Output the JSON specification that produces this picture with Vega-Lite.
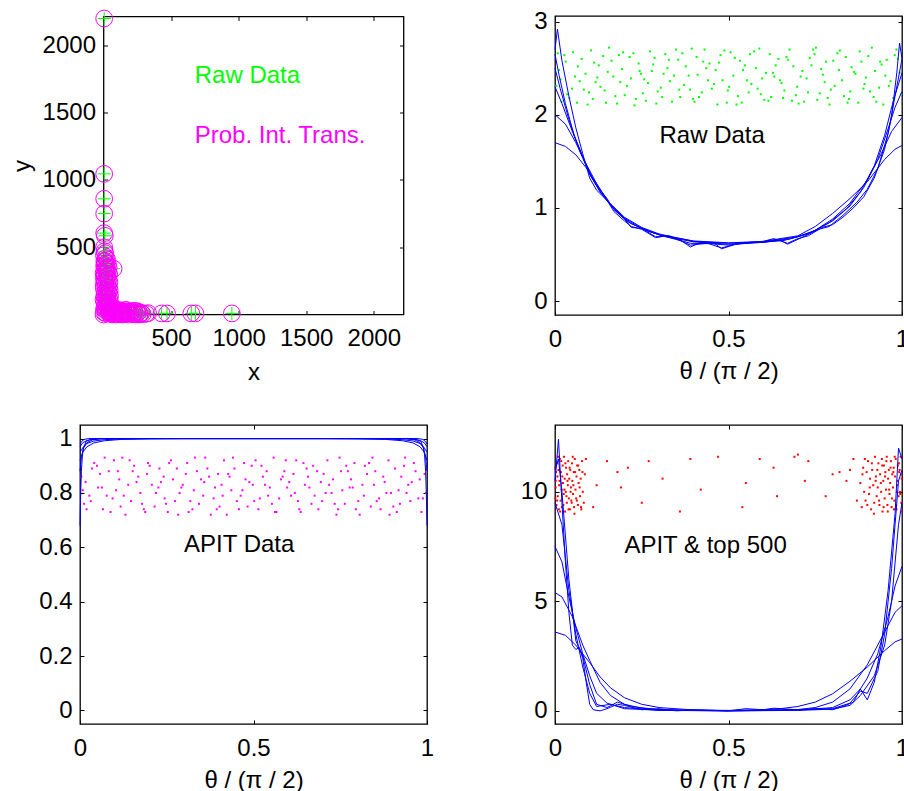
{
"$schema": "https://vega.github.io/schema/vega-lite/v6.json",
"background": "white",
"autosize": {"type": "pad"},
"padding": {"left": 9, "top": 7, "right": 0, "bottom": 0},
"columns": 2,
"spacing": {"row": 110, "column": 128},
"bounds": "flush",
"center": true,
"config": {
  "font": "Liberation Sans",
  "view": {"stroke": "#000", "strokeWidth": 1.3},
  "axis": {"labelFont": "Liberation Sans", "labelFontSize": 24, "labelColor": "#000", "titleFont": "Liberation Sans", "titleFontSize": 24, "titleFontWeight": "normal", "titleColor": "#000", "domain": false, "grid": false, "tickColor": "#000", "tickSize": -4, "tickWidth": 1, "labelPadding": 12, "labelFlush": false, "labelOverlap": false, "format": "~r"},
  "axisX": {"labelPadding": 16}
},
"datasets": {
"p1": [{"x":5,"y":2200},{"x":5,"y":1045},{"x":5,"y":860},{"x":5,"y":750},{"x":5,"y":605},{"x":10,"y":585},{"x":5,"y":500},{"x":8,"y":470},{"x":12,"y":455},{"x":3,"y":440},{"x":75,"y":340},{"x":430,"y":8},{"x":470,"y":8},{"x":650,"y":8},{"x":680,"y":8},{"x":950,"y":8},
{"x":10,"y":400},{"x":20,"y":380},{"x":5,"y":360},{"x":15,"y":340},{"x":30,"y":320},{"x":8,"y":300},{"x":25,"y":280},{"x":35,"y":260},{"x":12,"y":240},{"x":2,"y":220},{"x":28,"y":200},{"x":18,"y":180},{"x":38,"y":160},{"x":6,"y":140},{"x":22,"y":120},{"x":32,"y":100},{"x":14,"y":80},{"x":40,"y":60},{"x":4,"y":40},{"x":26,"y":20},{"x":0,"y":0},{"x":16,"y":10},{"x":36,"y":30},{"x":10,"y":50},{"x":20,"y":70},{"x":30,"y":90},{"x":0,"y":110},{"x":12,"y":130},{"x":24,"y":150},{"x":34,"y":170},{"x":3,"y":190},{"x":15,"y":210},{"x":27,"y":230},{"x":7,"y":250},{"x":19,"y":270},{"x":31,"y":290},{"x":1,"y":310},{"x":13,"y":330},{"x":23,"y":350},{"x":9,"y":370},{"x":17,"y":420},{"x":40,"y":200},{"x":45,"y":110},{"x":50,"y":40},
{"x":38,"y":345},{"x":42,"y":300},{"x":44,"y":240},{"x":46,"y":180},{"x":48,"y":140},{"x":50,"y":80},{"x":52,"y":20},{"x":6,"y":395},{"x":26,"y":410},{"x":33,"y":375},{"x":2,"y":275},{"x":21,"y":305},{"x":11,"y":165},{"x":29,"y":135},{"x":37,"y":65},{"x":7,"y":95},{"x":18,"y":45},{"x":41,"y":15},{"x":4,"y":15},{"x":28,"y":55},
{"x":50,"y":5},{"x":60,"y":20},{"x":70,"y":10},{"x":80,"y":25},{"x":90,"y":0},{"x":100,"y":15},{"x":110,"y":5},{"x":120,"y":25},{"x":130,"y":10},{"x":140,"y":0},{"x":150,"y":20},{"x":160,"y":5},{"x":170,"y":15},{"x":180,"y":25},{"x":190,"y":0},{"x":200,"y":10},{"x":210,"y":20},{"x":220,"y":5},{"x":230,"y":15},{"x":240,"y":0},{"x":250,"y":10},{"x":260,"y":20},{"x":270,"y":5},{"x":280,"y":12},{"x":290,"y":3},{"x":65,"y":0},{"x":95,"y":30},{"x":125,"y":3},{"x":175,"y":8},{"x":225,"y":28},{"x":55,"y":12},{"x":85,"y":8},{"x":115,"y":18},{"x":75,"y":40},{"x":105,"y":35},{"x":135,"y":30},{"x":165,"y":35},{"x":195,"y":22},{"x":245,"y":25},{"x":145,"y":12},{"x":185,"y":12},{"x":265,"y":0},{"x":315,"y":5},{"x":330,"y":10}],
"p2dots": [{"x":0.004,"y":2.31},{"x":0.027,"y":2.64},{"x":0.041,"y":2.18},{"x":0.066,"y":2.52},{"x":0.083,"y":2.27},{"x":0.104,"y":2.69},{"x":0.122,"y":2.4},{"x":0.147,"y":2.13},{"x":0.163,"y":2.58},{"x":0.188,"y":2.35},{"x":0.201,"y":2.21},{"x":0.226,"y":2.66},{"x":0.248,"y":2.44},{"x":0.262,"y":2.15},{"x":0.287,"y":2.61},{"x":0.305,"y":2.29},{"x":0.324,"y":2.5},{"x":0.349,"y":2.7},{"x":0.361,"y":2.19},{"x":0.385,"y":2.42},{"x":0.408,"y":2.62},{"x":0.423,"y":2.24},{"x":0.445,"y":2.55},{"x":0.468,"y":2.11},{"x":0.483,"y":2.37},{"x":0.506,"y":2.67},{"x":0.527,"y":2.2},{"x":0.542,"y":2.48},{"x":0.566,"y":2.33},{"x":0.589,"y":2.71},{"x":0.603,"y":2.16},{"x":0.628,"y":2.45},{"x":0.644,"y":2.6},{"x":0.661,"y":2.26},{"x":0.687,"y":2.52},{"x":0.702,"y":2.12},{"x":0.725,"y":2.39},{"x":0.748,"y":2.65},{"x":0.763,"y":2.23},{"x":0.781,"y":2.57},{"x":0.806,"y":2.31},{"x":0.821,"y":2.69},{"x":0.847,"y":2.17},{"x":0.862,"y":2.46},{"x":0.889,"y":2.28},{"x":0.903,"y":2.63},{"x":0.926,"y":2.14},{"x":0.941,"y":2.54},{"x":0.967,"y":2.36},{"x":0.984,"y":2.7},
{"x":0.012,"y":2.48},{"x":0.035,"y":2.22},{"x":0.052,"y":2.67},{"x":0.071,"y":2.36},{"x":0.094,"y":2.11},{"x":0.113,"y":2.56},{"x":0.131,"y":2.3},{"x":0.156,"y":2.72},{"x":0.174,"y":2.2},{"x":0.193,"y":2.49},{"x":0.215,"y":2.62},{"x":0.233,"y":2.17},{"x":0.257,"y":2.38},{"x":0.274,"y":2.68},{"x":0.296,"y":2.25},{"x":0.313,"y":2.44},{"x":0.337,"y":2.14},{"x":0.355,"y":2.59},{"x":0.372,"y":2.32},{"x":0.394,"y":2.71},{"x":0.415,"y":2.19},{"x":0.436,"y":2.5},{"x":0.452,"y":2.28},{"x":0.477,"y":2.64},{"x":0.495,"y":2.13},{"x":0.514,"y":2.42},{"x":0.533,"y":2.58},{"x":0.558,"y":2.24},{"x":0.574,"y":2.68},{"x":0.597,"y":2.39},{"x":0.615,"y":2.15},{"x":0.636,"y":2.53},{"x":0.653,"y":2.34},{"x":0.676,"y":2.7},{"x":0.694,"y":2.21},{"x":0.713,"y":2.47},{"x":0.734,"y":2.61},{"x":0.756,"y":2.16},{"x":0.772,"y":2.43},{"x":0.795,"y":2.27},{"x":0.814,"y":2.66},{"x":0.833,"y":2.2},{"x":0.855,"y":2.51},{"x":0.874,"y":2.13},{"x":0.896,"y":2.4},{"x":0.913,"y":2.72},{"x":0.934,"y":2.29},{"x":0.956,"y":2.59},{"x":0.975,"y":2.18},{"x":0.993,"y":2.45},
{"x":0.008,"y":2.66},{"x":0.019,"y":2.14},{"x":0.058,"y":2.41},{"x":0.077,"y":2.6},{"x":0.098,"y":2.24},{"x":0.117,"y":2.35},{"x":0.139,"y":2.63},{"x":0.152,"y":2.46},{"x":0.179,"y":2.12},{"x":0.196,"y":2.67},{"x":0.219,"y":2.39},{"x":0.241,"y":2.55},{"x":0.253,"y":2.23},{"x":0.279,"y":2.47},{"x":0.292,"y":2.12},{"x":0.318,"y":2.65},{"x":0.331,"y":2.36},{"x":0.358,"y":2.27},{"x":0.377,"y":2.52},{"x":0.398,"y":2.17},{"x":0.411,"y":2.43},{"x":0.431,"y":2.7},{"x":0.458,"y":2.33},{"x":0.473,"y":2.56},{"x":0.498,"y":2.26},{"x":0.518,"y":2.61},{"x":0.538,"y":2.13},{"x":0.553,"y":2.37},{"x":0.579,"y":2.5},{"x":0.593,"y":2.22},{"x":0.619,"y":2.65},{"x":0.632,"y":2.41},{"x":0.657,"y":2.18},{"x":0.672,"y":2.59},{"x":0.698,"y":2.3},{"x":0.718,"y":2.14},{"x":0.739,"y":2.53},{"x":0.752,"y":2.72},{"x":0.777,"y":2.35},{"x":0.791,"y":2.11},{"x":0.818,"y":2.48},{"x":0.838,"y":2.62},{"x":0.851,"y":2.25},{"x":0.878,"y":2.68},{"x":0.892,"y":2.33},{"x":0.918,"y":2.19},{"x":0.937,"y":2.57},{"x":0.952,"y":2.42},{"x":0.979,"y":2.64},{"x":0.997,"y":2.22},
{"x":0.016,"y":2.38},{"x":0.031,"y":2.57},{"x":0.049,"y":2.28},{"x":0.063,"y":2.13},{"x":0.088,"y":2.44},{"x":0.109,"y":2.17},{"x":0.126,"y":2.53},{"x":0.143,"y":2.26},{"x":0.168,"y":2.41},{"x":0.184,"y":2.64},{"x":0.207,"y":2.31},{"x":0.229,"y":2.1},{"x":0.244,"y":2.47},{"x":0.268,"y":2.34},{"x":0.283,"y":2.54},{"x":0.309,"y":2.19},{"x":0.328,"y":2.59},{"x":0.343,"y":2.42},{"x":0.367,"y":2.66},{"x":0.389,"y":2.27},{"x":0.402,"y":2.14},{"x":0.427,"y":2.57},{"x":0.441,"y":2.37},{"x":0.463,"y":2.48},{"x":0.488,"y":2.69},{"x":0.502,"y":2.3},{"x":0.523,"y":2.11},{"x":0.547,"y":2.53},{"x":0.562,"y":2.65},{"x":0.584,"y":2.28},{"x":0.608,"y":2.45},{"x":0.623,"y":2.19},{"x":0.648,"y":2.37},{"x":0.667,"y":2.62},{"x":0.683,"y":2.15},{"x":0.708,"y":2.41},{"x":0.729,"y":2.24},{"x":0.744,"y":2.7},{"x":0.767,"y":2.49},{"x":0.786,"y":2.18},{"x":0.802,"y":2.58},{"x":0.827,"y":2.37},{"x":0.843,"y":2.13},{"x":0.866,"y":2.44},{"x":0.883,"y":2.57},{"x":0.908,"y":2.25},{"x":0.922,"y":2.47},{"x":0.946,"y":2.11},{"x":0.962,"y":2.31},{"x":0.988,"y":2.6}],
"p2curves": [
{"c":1,"x":0,"y":1.7},{"c":1,"x":0.03,"y":1.66},{"c":1,"x":0.06,"y":1.57},{"c":1,"x":0.09,"y":1.43},{"c":1,"x":0.12,"y":1.26},{"c":1,"x":0.16,"y":1.03},{"c":1,"x":0.2,"y":0.89},{"c":1,"x":0.25,"y":0.78},{"c":1,"x":0.3,"y":0.71},{"c":1,"x":0.4,"y":0.645},{"c":1,"x":0.5,"y":0.625},{"c":1,"x":0.6,"y":0.64},{"c":1,"x":0.7,"y":0.7},{"c":1,"x":0.75,"y":0.8},{"c":1,"x":0.8,"y":0.94},{"c":1,"x":0.85,"y":1.1},{"c":1,"x":0.9,"y":1.28},{"c":1,"x":0.95,"y":1.52},{"c":1,"x":0.98,"y":1.63},{"c":1,"x":1,"y":1.67},
{"c":2,"x":0,"y":2.0},{"c":2,"x":0.03,"y":1.9},{"c":2,"x":0.06,"y":1.7},{"c":2,"x":0.09,"y":1.47},{"c":2,"x":0.12,"y":1.26},{"c":2,"x":0.15,"y":1.08},{"c":2,"x":0.2,"y":0.9},{"c":2,"x":0.25,"y":0.79},{"c":2,"x":0.3,"y":0.72},{"c":2,"x":0.4,"y":0.64},{"c":2,"x":0.5,"y":0.62},{"c":2,"x":0.6,"y":0.635},{"c":2,"x":0.7,"y":0.69},{"c":2,"x":0.75,"y":0.76},{"c":2,"x":0.8,"y":0.88},{"c":2,"x":0.85,"y":1.05},{"c":2,"x":0.9,"y":1.3},{"c":2,"x":0.94,"y":1.58},{"c":2,"x":0.97,"y":1.82},{"c":2,"x":1,"y":1.97},
{"c":3,"x":0,"y":2.3},{"c":3,"x":0.02,"y":2.12},{"c":3,"x":0.05,"y":1.82},{"c":3,"x":0.08,"y":1.55},{"c":3,"x":0.11,"y":1.3},{"c":3,"x":0.14,"y":1.12},{"c":3,"x":0.18,"y":0.95},{"c":3,"x":0.22,"y":0.83},{"c":3,"x":0.27,"y":0.75},{"c":3,"x":0.32,"y":0.69},{"c":3,"x":0.4,"y":0.635},{"c":3,"x":0.5,"y":0.61},{"c":3,"x":0.6,"y":0.63},{"c":3,"x":0.68,"y":0.67},{"c":3,"x":0.74,"y":0.74},{"c":3,"x":0.8,"y":0.86},{"c":3,"x":0.85,"y":1.02},{"c":3,"x":0.89,"y":1.22},{"c":3,"x":0.93,"y":1.52},{"c":3,"x":0.96,"y":1.85},{"c":3,"x":0.98,"y":2.08},{"c":3,"x":1,"y":2.25},
{"c":4,"x":0,"y":2.5},{"c":4,"x":0.015,"y":2.28},{"c":4,"x":0.04,"y":1.95},{"c":4,"x":0.07,"y":1.62},{"c":4,"x":0.1,"y":1.36},{"c":4,"x":0.13,"y":1.17},{"c":4,"x":0.17,"y":0.99},{"c":4,"x":0.21,"y":0.85},{"c":4,"x":0.26,"y":0.76},{"c":4,"x":0.31,"y":0.7},{"c":4,"x":0.39,"y":0.62},{"c":4,"x":0.45,"y":0.615},{"c":4,"x":0.5,"y":0.6},{"c":4,"x":0.58,"y":0.63},{"c":4,"x":0.66,"y":0.65},{"c":4,"x":0.73,"y":0.72},{"c":4,"x":0.79,"y":0.84},{"c":4,"x":0.84,"y":0.99},{"c":4,"x":0.88,"y":1.17},{"c":4,"x":0.92,"y":1.45},{"c":4,"x":0.95,"y":1.78},{"c":4,"x":0.975,"y":2.15},{"c":4,"x":1,"y":2.45},
{"c":5,"x":0,"y":2.65},{"c":5,"x":0.012,"y":2.42},{"c":5,"x":0.03,"y":2.12},{"c":5,"x":0.055,"y":1.78},{"c":5,"x":0.08,"y":1.55},{"c":5,"x":0.1,"y":1.36},{"c":5,"x":0.12,"y":1.24},{"c":5,"x":0.15,"y":1.1},{"c":5,"x":0.17,"y":0.98},{"c":5,"x":0.2,"y":0.88},{"c":5,"x":0.22,"y":0.79},{"c":5,"x":0.25,"y":0.78},{"c":5,"x":0.29,"y":0.69},{"c":5,"x":0.33,"y":0.7},{"c":5,"x":0.39,"y":0.6},{"c":5,"x":0.44,"y":0.62},{"c":5,"x":0.48,"y":0.57},{"c":5,"x":0.53,"y":0.62},{"c":5,"x":0.6,"y":0.63},{"c":5,"x":0.65,"y":0.65},{"c":5,"x":0.67,"y":0.61},{"c":5,"x":0.71,"y":0.68},{"c":5,"x":0.76,"y":0.77},{"c":5,"x":0.79,"y":0.8},{"c":5,"x":0.83,"y":0.92},{"c":5,"x":0.87,"y":1.06},{"c":5,"x":0.9,"y":1.2},{"c":5,"x":0.93,"y":1.42},{"c":5,"x":0.96,"y":1.8},{"c":5,"x":0.98,"y":2.2},{"c":5,"x":1,"y":2.6},
{"c":6,"x":0,"y":2.7},{"c":6,"x":0.007,"y":2.92},{"c":6,"x":0.02,"y":2.58},{"c":6,"x":0.04,"y":2.2},{"c":6,"x":0.06,"y":1.86},{"c":6,"x":0.08,"y":1.58},{"c":6,"x":0.1,"y":1.32},{"c":6,"x":0.12,"y":1.19},{"c":6,"x":0.15,"y":1.08},{"c":6,"x":0.17,"y":0.96},{"c":6,"x":0.2,"y":0.86},{"c":6,"x":0.22,"y":0.8},{"c":6,"x":0.25,"y":0.77},{"c":6,"x":0.29,"y":0.68},{"c":6,"x":0.32,"y":0.7},{"c":6,"x":0.36,"y":0.66},{"c":6,"x":0.39,"y":0.58},{"c":6,"x":0.42,"y":0.63},{"c":6,"x":0.46,"y":0.62},{"c":6,"x":0.48,"y":0.56},{"c":6,"x":0.52,"y":0.61},{"c":6,"x":0.56,"y":0.63},{"c":6,"x":0.6,"y":0.64},{"c":6,"x":0.63,"y":0.67},{"c":6,"x":0.67,"y":0.62},{"c":6,"x":0.7,"y":0.67},{"c":6,"x":0.73,"y":0.7},{"c":6,"x":0.77,"y":0.79},{"c":6,"x":0.8,"y":0.82},{"c":6,"x":0.83,"y":0.9},{"c":6,"x":0.86,"y":1.0},{"c":6,"x":0.89,"y":1.12},{"c":6,"x":0.92,"y":1.32},{"c":6,"x":0.95,"y":1.63},{"c":6,"x":0.97,"y":1.98},{"c":6,"x":0.985,"y":2.45},{"c":6,"x":0.993,"y":2.77},{"c":6,"x":1,"y":2.6}],
"p3dots": [{"x":0.004,"y":0.86},{"x":0.027,"y":0.79},{"x":0.041,"y":0.91},{"x":0.066,"y":0.74},{"x":0.083,"y":0.88},{"x":0.104,"y":0.81},{"x":0.122,"y":0.93},{"x":0.147,"y":0.77},{"x":0.163,"y":0.84},{"x":0.188,"y":0.73},{"x":0.201,"y":0.9},{"x":0.226,"y":0.82},{"x":0.248,"y":0.76},{"x":0.262,"y":0.92},{"x":0.287,"y":0.8},{"x":0.305,"y":0.87},{"x":0.324,"y":0.74},{"x":0.349,"y":0.85},{"x":0.361,"y":0.93},{"x":0.385,"y":0.78},{"x":0.408,"y":0.83},{"x":0.423,"y":0.72},{"x":0.445,"y":0.89},{"x":0.468,"y":0.81},{"x":0.483,"y":0.75},{"x":0.506,"y":0.92},{"x":0.527,"y":0.86},{"x":0.542,"y":0.79},{"x":0.566,"y":0.73},{"x":0.589,"y":0.88},{"x":0.603,"y":0.84},{"x":0.628,"y":0.77},{"x":0.644,"y":0.91},{"x":0.661,"y":0.82},{"x":0.687,"y":0.74},{"x":0.702,"y":0.87},{"x":0.725,"y":0.8},{"x":0.748,"y":0.93},{"x":0.763,"y":0.76},{"x":0.781,"y":0.85},{"x":0.806,"y":0.72},{"x":0.821,"y":0.9},{"x":0.847,"y":0.83},{"x":0.862,"y":0.78},{"x":0.889,"y":0.92},{"x":0.903,"y":0.75},{"x":0.926,"y":0.86},{"x":0.941,"y":0.8},{"x":0.967,"y":0.88},{"x":0.984,"y":0.73},
{"x":0.012,"y":0.76},{"x":0.035,"y":0.89},{"x":0.052,"y":0.82},{"x":0.071,"y":0.93},{"x":0.094,"y":0.78},{"x":0.113,"y":0.85},{"x":0.131,"y":0.72},{"x":0.156,"y":0.9},{"x":0.174,"y":0.8},{"x":0.193,"y":0.87},{"x":0.215,"y":0.75},{"x":0.233,"y":0.84},{"x":0.257,"y":0.91},{"x":0.274,"y":0.77},{"x":0.296,"y":0.83},{"x":0.313,"y":0.73},{"x":0.337,"y":0.88},{"x":0.355,"y":0.79},{"x":0.372,"y":0.86},{"x":0.394,"y":0.74},{"x":0.415,"y":0.92},{"x":0.436,"y":0.81},{"x":0.452,"y":0.77},{"x":0.477,"y":0.85},{"x":0.495,"y":0.9},{"x":0.514,"y":0.74},{"x":0.533,"y":0.83},{"x":0.558,"y":0.93},{"x":0.574,"y":0.78},{"x":0.597,"y":0.82},{"x":0.615,"y":0.87},{"x":0.636,"y":0.73},{"x":0.653,"y":0.89},{"x":0.676,"y":0.79},{"x":0.694,"y":0.84},{"x":0.713,"y":0.92},{"x":0.734,"y":0.76},{"x":0.756,"y":0.81},{"x":0.772,"y":0.88},{"x":0.795,"y":0.74},{"x":0.814,"y":0.83},{"x":0.833,"y":0.91},{"x":0.855,"y":0.77},{"x":0.874,"y":0.86},{"x":0.896,"y":0.8},{"x":0.913,"y":0.73},{"x":0.934,"y":0.9},{"x":0.956,"y":0.84},{"x":0.975,"y":0.78},{"x":0.993,"y":0.87},
{"x":0.008,"y":0.81},{"x":0.019,"y":0.74},{"x":0.058,"y":0.87},{"x":0.077,"y":0.79},{"x":0.098,"y":0.92},{"x":0.117,"y":0.75},{"x":0.139,"y":0.83},{"x":0.152,"y":0.88},{"x":0.179,"y":0.76},{"x":0.196,"y":0.91},{"x":0.219,"y":0.8},{"x":0.241,"y":0.86},{"x":0.253,"y":0.73},{"x":0.279,"y":0.89},{"x":0.292,"y":0.82},{"x":0.318,"y":0.77},{"x":0.331,"y":0.93},{"x":0.358,"y":0.84},{"x":0.377,"y":0.72},{"x":0.398,"y":0.87},{"x":0.411,"y":0.79},{"x":0.431,"y":0.86},{"x":0.458,"y":0.74},{"x":0.473,"y":0.91},{"x":0.498,"y":0.83},{"x":0.518,"y":0.78},{"x":0.538,"y":0.88},{"x":0.553,"y":0.76},{"x":0.579,"y":0.85},{"x":0.593,"y":0.92},{"x":0.619,"y":0.8},{"x":0.632,"y":0.74},{"x":0.657,"y":0.86},{"x":0.672,"y":0.9},{"x":0.698,"y":0.77},{"x":0.718,"y":0.83},{"x":0.739,"y":0.72},{"x":0.752,"y":0.88},{"x":0.777,"y":0.82},{"x":0.791,"y":0.91},{"x":0.818,"y":0.79},{"x":0.838,"y":0.75},{"x":0.851,"y":0.88},{"x":0.878,"y":0.84},{"x":0.892,"y":0.72},{"x":0.918,"y":0.81},{"x":0.937,"y":0.93},{"x":0.952,"y":0.77},{"x":0.979,"y":0.85},{"x":0.997,"y":0.8},
{"x":0.016,"y":0.84},{"x":0.031,"y":0.77},{"x":0.049,"y":0.9},{"x":0.063,"y":0.82},{"x":0.088,"y":0.73},{"x":0.109,"y":0.88},{"x":0.126,"y":0.79},{"x":0.143,"y":0.92},{"x":0.168,"y":0.86},{"x":0.184,"y":0.74},{"x":0.207,"y":0.83},{"x":0.229,"y":0.89},{"x":0.244,"y":0.78},{"x":0.268,"y":0.85},{"x":0.283,"y":0.72},{"x":0.309,"y":0.91},{"x":0.328,"y":0.81},{"x":0.343,"y":0.76},{"x":0.367,"y":0.89},{"x":0.389,"y":0.82},{"x":0.402,"y":0.75},{"x":0.427,"y":0.87},{"x":0.441,"y":0.93},{"x":0.463,"y":0.79},{"x":0.488,"y":0.84},{"x":0.502,"y":0.77},{"x":0.523,"y":0.9},{"x":0.547,"y":0.82},{"x":0.562,"y":0.73},{"x":0.584,"y":0.86},{"x":0.608,"y":0.79},{"x":0.623,"y":0.92},{"x":0.648,"y":0.83},{"x":0.667,"y":0.76},{"x":0.683,"y":0.88},{"x":0.708,"y":0.8},{"x":0.729,"y":0.85},{"x":0.744,"y":0.74},{"x":0.767,"y":0.9},{"x":0.786,"y":0.82},{"x":0.802,"y":0.77},{"x":0.827,"y":0.87},{"x":0.843,"y":0.93},{"x":0.866,"y":0.74},{"x":0.883,"y":0.8},{"x":0.908,"y":0.89},{"x":0.922,"y":0.76},{"x":0.946,"y":0.83},{"x":0.962,"y":0.91},{"x":0.988,"y":0.78}],
"p3curves": [
{"c":1,"x":0,"y":0.68},{"c":1,"x":0.002,"y":0.8},{"c":1,"x":0.004,"y":0.88},{"c":1,"x":0.007,"y":0.94},{"c":1,"x":0.011,"y":0.97},{"c":1,"x":0.018,"y":0.99},{"c":1,"x":0.03,"y":0.997},{"c":1,"x":0.06,"y":1.0},{"c":1,"x":0.94,"y":1.0},{"c":1,"x":0.97,"y":0.997},{"c":1,"x":0.982,"y":0.99},{"c":1,"x":0.989,"y":0.97},{"c":1,"x":0.993,"y":0.94},{"c":1,"x":0.996,"y":0.88},{"c":1,"x":0.998,"y":0.8},{"c":1,"x":1,"y":0.68},
{"c":2,"x":0,"y":0.95},{"c":2,"x":0.01,"y":0.97},{"c":2,"x":0.02,"y":0.982},{"c":2,"x":0.04,"y":0.991},{"c":2,"x":0.07,"y":0.996},{"c":2,"x":0.12,"y":0.999},{"c":2,"x":0.2,"y":1.0},{"c":2,"x":0.8,"y":1.0},{"c":2,"x":0.88,"y":0.999},{"c":2,"x":0.93,"y":0.996},{"c":2,"x":0.96,"y":0.991},{"c":2,"x":0.98,"y":0.982},{"c":2,"x":0.99,"y":0.97},{"c":2,"x":1,"y":0.95},
{"c":3,"x":0,"y":0.97},{"c":3,"x":0.008,"y":0.985},{"c":3,"x":0.02,"y":0.993},{"c":3,"x":0.04,"y":0.998},{"c":3,"x":0.07,"y":1.0},{"c":3,"x":0.93,"y":1.0},{"c":3,"x":0.96,"y":0.998},{"c":3,"x":0.98,"y":0.993},{"c":3,"x":0.992,"y":0.985},{"c":3,"x":1,"y":0.97},
{"c":4,"x":0,"y":0.92},{"c":4,"x":0.008,"y":0.95},{"c":4,"x":0.02,"y":0.97},{"c":4,"x":0.04,"y":0.984},{"c":4,"x":0.07,"y":0.992},{"c":4,"x":0.12,"y":0.997},{"c":4,"x":0.2,"y":0.999},{"c":4,"x":0.3,"y":1.0},{"c":4,"x":0.7,"y":1.0},{"c":4,"x":0.8,"y":0.999},{"c":4,"x":0.88,"y":0.997},{"c":4,"x":0.93,"y":0.992},{"c":4,"x":0.96,"y":0.984},{"c":4,"x":0.98,"y":0.97},{"c":4,"x":0.992,"y":0.95},{"c":4,"x":1,"y":0.92},
{"c":5,"x":0,"y":0.98},{"c":5,"x":0.005,"y":0.99},{"c":5,"x":0.012,"y":0.997},{"c":5,"x":0.025,"y":1.0},{"c":5,"x":0.975,"y":1.0},{"c":5,"x":0.988,"y":0.997},{"c":5,"x":0.995,"y":0.99},{"c":5,"x":1,"y":0.98},
{"c":6,"x":0,"y":0.88},{"c":6,"x":0.004,"y":0.93},{"c":6,"x":0.01,"y":0.965},{"c":6,"x":0.02,"y":0.985},{"c":6,"x":0.035,"y":0.995},{"c":6,"x":0.06,"y":1.0},{"c":6,"x":0.94,"y":1.0},{"c":6,"x":0.965,"y":0.995},{"c":6,"x":0.98,"y":0.985},{"c":6,"x":0.99,"y":0.965},{"c":6,"x":0.996,"y":0.93},{"c":6,"x":1,"y":0.88}],
"p4dots": [{"x":0.002,"y":10.2},{"x":0.004,"y":9.4},{"x":0.005,"y":11.3},{"x":0.007,"y":10.7},{"x":0.008,"y":9.8},{"x":0.01,"y":11.0},{"x":0.011,"y":9.2},{"x":0.013,"y":10.5},{"x":0.014,"y":11.5},{"x":0.016,"y":9.6},{"x":0.017,"y":10.9},{"x":0.019,"y":10.1},{"x":0.02,"y":9.3},{"x":0.022,"y":11.2},{"x":0.023,"y":10.4},{"x":0.025,"y":9.9},{"x":0.026,"y":11.6},{"x":0.028,"y":10.6},{"x":0.029,"y":9.1},{"x":0.031,"y":10.0},{"x":0.032,"y":11.1},{"x":0.034,"y":9.5},{"x":0.035,"y":10.8},{"x":0.037,"y":10.3},{"x":0.038,"y":11.4},{"x":0.04,"y":9.7},{"x":0.041,"y":10.6},{"x":0.043,"y":9.2},{"x":0.044,"y":11.0},{"x":0.046,"y":10.2},{"x":0.047,"y":9.6},{"x":0.049,"y":11.3},{"x":0.05,"y":10.5},{"x":0.052,"y":9.9},{"x":0.054,"y":10.9},{"x":0.055,"y":9.3},{"x":0.057,"y":11.5},{"x":0.059,"y":10.1},{"x":0.061,"y":9.7},{"x":0.062,"y":10.7},{"x":0.064,"y":11.2},{"x":0.066,"y":9.4},{"x":0.068,"y":10.4},{"x":0.07,"y":11.0},{"x":0.072,"y":9.8},{"x":0.074,"y":10.6},{"x":0.076,"y":9.2},{"x":0.078,"y":11.4},{"x":0.08,"y":10.0},{"x":0.083,"y":9.5},{"x":0.086,"y":10.8},{"x":0.089,"y":11.5},{"x":0.003,"y":10.9},{"x":0.006,"y":9.6},{"x":0.009,"y":11.6},{"x":0.012,"y":10.3},{"x":0.015,"y":9.1},{"x":0.018,"y":11.4},{"x":0.021,"y":10.7},{"x":0.024,"y":9.4},{"x":0.027,"y":10.1},{"x":0.03,"y":11.3},{"x":0.033,"y":9.8},{"x":0.036,"y":10.5},{"x":0.039,"y":9.2},{"x":0.042,"y":11.1},{"x":0.045,"y":10.0},{"x":0.048,"y":9.5},{"x":0.051,"y":11.6},{"x":0.053,"y":10.3},{"x":0.056,"y":9.0},{"x":0.058,"y":10.9},{"x":0.063,"y":9.6},{"x":0.067,"y":11.2},{"x":0.071,"y":10.2},{"x":0.075,"y":9.3},{"x":0.079,"y":10.9},{"x":0.001,"y":9.7},{"x":0.001,"y":11.1},{"x":0.002,"y":10.5},
{"x":0.11,"y":9.3},{"x":0.12,"y":10.3},{"x":0.15,"y":11.4},{"x":0.18,"y":10.9},{"x":0.19,"y":10.2},{"x":0.21,"y":11.1},{"x":0.25,"y":9.5},{"x":0.27,"y":11.4},{"x":0.31,"y":10.6},{"x":0.36,"y":9.1},{"x":0.39,"y":11.5},{"x":0.42,"y":10.1},{"x":0.47,"y":11.6},{"x":0.54,"y":9.3},{"x":0.55,"y":10.4},{"x":0.59,"y":11.5},{"x":0.63,"y":11.1},{"x":0.64,"y":9.8},{"x":0.69,"y":11.6},{"x":0.7,"y":11.7},{"x":0.72,"y":10.5},{"x":0.73,"y":11.4},{"x":0.78,"y":9.8},{"x":0.8,"y":10.8},{"x":0.82,"y":10.9},{"x":0.85,"y":11.0},{"x":0.84,"y":10.5},{"x":0.86,"y":11.5},{"x":0.87,"y":9.6},
{"x":0.88,"y":10.4},{"x":0.884,"y":9.3},{"x":0.888,"y":11.1},{"x":0.891,"y":10.0},{"x":0.895,"y":9.6},{"x":0.898,"y":10.9},{"x":0.902,"y":11.4},{"x":0.905,"y":9.9},{"x":0.908,"y":10.6},{"x":0.911,"y":9.2},{"x":0.914,"y":11.0},{"x":0.917,"y":10.3},{"x":0.92,"y":9.5},{"x":0.922,"y":11.6},{"x":0.925,"y":10.7},{"x":0.927,"y":9.8},{"x":0.93,"y":10.2},{"x":0.932,"y":11.3},{"x":0.935,"y":9.4},{"x":0.937,"y":10.8},{"x":0.94,"y":10.0},{"x":0.942,"y":11.5},{"x":0.944,"y":9.1},{"x":0.946,"y":10.5},{"x":0.948,"y":11.2},{"x":0.95,"y":9.7},{"x":0.952,"y":10.9},{"x":0.954,"y":10.1},{"x":0.956,"y":11.6},{"x":0.958,"y":9.4},{"x":0.96,"y":10.6},{"x":0.962,"y":11.0},{"x":0.964,"y":9.9},{"x":0.966,"y":10.4},{"x":0.968,"y":11.4},{"x":0.97,"y":9.3},{"x":0.972,"y":10.8},{"x":0.974,"y":10.2},{"x":0.976,"y":11.1},{"x":0.978,"y":9.6},{"x":0.98,"y":10.7},{"x":0.982,"y":11.5},{"x":0.984,"y":9.2},{"x":0.986,"y":10.3},{"x":0.988,"y":11.2},{"x":0.99,"y":9.8},{"x":0.992,"y":10.9},{"x":0.994,"y":10.0},{"x":0.996,"y":11.6},{"x":0.998,"y":9.5},{"x":0.999,"y":10.6},{"x":0.886,"y":10.8},{"x":0.893,"y":11.5},{"x":0.9,"y":9.4},{"x":0.907,"y":10.2},{"x":0.913,"y":11.3},{"x":0.919,"y":9.0},{"x":0.924,"y":10.5},{"x":0.929,"y":11.0},{"x":0.934,"y":9.6},{"x":0.939,"y":10.4},{"x":0.943,"y":11.2},{"x":0.947,"y":9.3},{"x":0.951,"y":10.7},{"x":0.955,"y":11.4},{"x":0.959,"y":9.1},{"x":0.963,"y":10.1},{"x":0.967,"y":11.1},{"x":0.971,"y":9.7},{"x":0.975,"y":10.9},{"x":0.979,"y":11.6},{"x":0.983,"y":9.4},{"x":0.987,"y":10.5},{"x":0.991,"y":11.3},{"x":0.995,"y":9.9},{"x":0.997,"y":10.8},{"x":0.999,"y":9.1},{"x":0.993,"y":11.0},{"x":0.985,"y":10.0},{"x":0.977,"y":9.2}],
"p4curves": [
{"c":1,"x":0,"y":3.6},{"c":1,"x":0.03,"y":3.45},{"c":1,"x":0.06,"y":3.0},{"c":1,"x":0.1,"y":2.2},{"c":1,"x":0.13,"y":1.55},{"c":1,"x":0.16,"y":1.05},{"c":1,"x":0.2,"y":0.6},{"c":1,"x":0.25,"y":0.3},{"c":1,"x":0.3,"y":0.15},{"c":1,"x":0.4,"y":0.04},{"c":1,"x":0.5,"y":0.02},{"c":1,"x":0.6,"y":0.05},{"c":1,"x":0.65,"y":0.1},{"c":1,"x":0.7,"y":0.2},{"c":1,"x":0.75,"y":0.4},{"c":1,"x":0.8,"y":0.78},{"c":1,"x":0.85,"y":1.35},{"c":1,"x":0.9,"y":2.0},{"c":1,"x":0.95,"y":2.75},{"c":1,"x":0.98,"y":3.15},{"c":1,"x":1,"y":3.28},
{"c":2,"x":0,"y":5.4},{"c":2,"x":0.02,"y":5.2},{"c":2,"x":0.05,"y":4.3},{"c":2,"x":0.08,"y":3.0},{"c":2,"x":0.1,"y":2.3},{"c":2,"x":0.13,"y":1.3},{"c":2,"x":0.16,"y":0.7},{"c":2,"x":0.2,"y":0.3},{"c":2,"x":0.25,"y":0.12},{"c":2,"x":0.3,"y":0.05},{"c":2,"x":0.5,"y":0.01},{"c":2,"x":0.7,"y":0.06},{"c":2,"x":0.75,"y":0.15},{"c":2,"x":0.8,"y":0.4},{"c":2,"x":0.85,"y":1.0},{"c":2,"x":0.9,"y":2.1},{"c":2,"x":0.95,"y":3.6},{"c":2,"x":0.98,"y":4.5},{"c":2,"x":1,"y":4.8},
{"c":3,"x":0,"y":7.5},{"c":3,"x":0.02,"y":6.8},{"c":3,"x":0.04,"y":5.2},{"c":3,"x":0.06,"y":3.8},{"c":3,"x":0.08,"y":2.6},{"c":3,"x":0.1,"y":1.6},{"c":3,"x":0.12,"y":0.8},{"c":3,"x":0.15,"y":0.35},{"c":3,"x":0.2,"y":0.1},{"c":3,"x":0.3,"y":0.03},{"c":3,"x":0.5,"y":0.0},{"c":3,"x":0.7,"y":0.03},{"c":3,"x":0.8,"y":0.15},{"c":3,"x":0.85,"y":0.5},{"c":3,"x":0.88,"y":1.0},{"c":3,"x":0.9,"y":1.5},{"c":3,"x":0.93,"y":2.6},{"c":3,"x":0.96,"y":4.3},{"c":3,"x":0.98,"y":5.7},{"c":3,"x":1,"y":6.6},
{"c":4,"x":0,"y":10.5},{"c":4,"x":0.01,"y":12.4},{"c":4,"x":0.02,"y":9.5},{"c":4,"x":0.03,"y":6.8},{"c":4,"x":0.04,"y":4.5},{"c":4,"x":0.05,"y":3.0},{"c":4,"x":0.06,"y":2.8},{"c":4,"x":0.07,"y":2.9},{"c":4,"x":0.08,"y":2.4},{"c":4,"x":0.09,"y":1.3},{"c":4,"x":0.1,"y":0.3},{"c":4,"x":0.11,"y":0.05},{"c":4,"x":0.13,"y":0.0},{"c":4,"x":0.15,"y":0.1},{"c":4,"x":0.18,"y":0.3},{"c":4,"x":0.2,"y":0.25},{"c":4,"x":0.25,"y":0.05},{"c":4,"x":0.3,"y":0.1},{"c":4,"x":0.35,"y":0.0},{"c":4,"x":0.4,"y":0.05},{"c":4,"x":0.5,"y":0.0},{"c":4,"x":0.55,"y":0.1},{"c":4,"x":0.6,"y":0.05},{"c":4,"x":0.63,"y":0.12},{"c":4,"x":0.7,"y":0.05},{"c":4,"x":0.75,"y":0.1},{"c":4,"x":0.8,"y":0.05},{"c":4,"x":0.83,"y":0.2},{"c":4,"x":0.86,"y":0.4},{"c":4,"x":0.88,"y":1.0},{"c":4,"x":0.9,"y":0.5},{"c":4,"x":0.92,"y":1.3},{"c":4,"x":0.94,"y":3.0},{"c":4,"x":0.96,"y":5.5},{"c":4,"x":0.98,"y":9.0},{"c":4,"x":0.99,"y":12.0},{"c":4,"x":1,"y":11.5},
{"c":5,"x":0,"y":11.0},{"c":5,"x":0.01,"y":11.5},{"c":5,"x":0.02,"y":10.0},{"c":5,"x":0.04,"y":6.0},{"c":5,"x":0.06,"y":3.2},{"c":5,"x":0.08,"y":2.5},{"c":5,"x":0.1,"y":1.2},{"c":5,"x":0.12,"y":0.3},{"c":5,"x":0.15,"y":0.15},{"c":5,"x":0.18,"y":0.4},{"c":5,"x":0.22,"y":0.2},{"c":5,"x":0.3,"y":0.05},{"c":5,"x":0.5,"y":0.0},{"c":5,"x":0.7,"y":0.05},{"c":5,"x":0.8,"y":0.1},{"c":5,"x":0.85,"y":0.35},{"c":5,"x":0.88,"y":0.9},{"c":5,"x":0.9,"y":0.8},{"c":5,"x":0.93,"y":1.8},{"c":5,"x":0.95,"y":3.5},{"c":5,"x":0.97,"y":6.5},{"c":5,"x":0.99,"y":10.5},{"c":5,"x":1,"y":11.0},
{"c":6,"x":0,"y":9.5},{"c":6,"x":0.02,"y":8.5},{"c":6,"x":0.04,"y":5.5},{"c":6,"x":0.06,"y":3.5},{"c":6,"x":0.08,"y":2.0},{"c":6,"x":0.1,"y":0.8},{"c":6,"x":0.12,"y":0.2},{"c":6,"x":0.16,"y":0.3},{"c":6,"x":0.2,"y":0.15},{"c":6,"x":0.3,"y":0.02},{"c":6,"x":0.5,"y":0.0},{"c":6,"x":0.7,"y":0.02},{"c":6,"x":0.8,"y":0.08},{"c":6,"x":0.85,"y":0.25},{"c":6,"x":0.88,"y":0.7},{"c":6,"x":0.92,"y":1.6},{"c":6,"x":0.95,"y":3.0},{"c":6,"x":0.97,"y":5.0},{"c":6,"x":0.99,"y":8.5},{"c":6,"x":1,"y":9.5}]
},
"concat": [
{
  "width": 300, "height": 298,
  "resolve": {"axis": {"x": "independent", "y": "independent"}},
  "layer": [
    {"data": {"name": "p1"}, "mark": {"type": "point", "shape": "M-1,0L1,0M0,-1L0,1", "size": 169, "filled": false, "stroke": "#00ff00", "strokeWidth": 1, "opacity": 1},
     "encoding": {
       "x": {"field": "x", "type": "quantitative", "scale": {"domain": [0, 2220], "nice": false, "zero": false}, "axis": {"orient": "top", "values": [500, 1000, 1500, 2000], "labels": false, "title": null}},
       "y": {"field": "y", "type": "quantitative", "scale": {"domain": [0, 2215], "nice": false, "zero": false}, "axis": {"orient": "right", "values": [500, 1000, 1500, 2000], "labels": false, "title": null}}}},
    {"data": {"name": "p1"}, "mark": {"type": "point", "shape": "circle", "size": 280, "filled": false, "stroke": "#ff00ff", "strokeWidth": 1, "opacity": 1},
     "encoding": {
       "x": {"field": "x", "type": "quantitative", "scale": {"domain": [0, 2220], "nice": false, "zero": false}, "axis": {"values": [500, 1000, 1500, 2000], "title": "x", "titlePadding": 10}},
       "y": {"field": "y", "type": "quantitative", "scale": {"domain": [0, 2215], "nice": false, "zero": false}, "axis": {"values": [500, 1000, 1500, 2000], "title": "y", "titlePadding": 8}}}},
    {"data": {"values": [{"t": "Raw Data"}]}, "mark": {"type": "text", "align": "left", "baseline": "middle", "fontSize": 24, "font": "Liberation Sans", "color": "#00ff00"},
     "encoding": {"x": {"datum": 675, "type": "quantitative", "axis": null}, "y": {"datum": 1770, "type": "quantitative", "axis": null}, "text": {"field": "t"}}},
    {"data": {"values": [{"t": "Prob. Int. Trans."}]}, "mark": {"type": "text", "align": "left", "baseline": "middle", "fontSize": 24, "font": "Liberation Sans", "color": "#ff00ff"},
     "encoding": {"x": {"datum": 675, "type": "quantitative", "axis": null}, "y": {"datum": 1330, "type": "quantitative", "axis": null}, "text": {"field": "t"}}}
  ]
},
{
  "width": 347, "height": 299,
  "resolve": {"axis": {"x": "independent", "y": "independent"}},
  "layer": [
    {"data": {"name": "p2dots"}, "mark": {"type": "point", "shape": "square", "size": 4, "filled": true, "color": "#00ff00", "opacity": 1},
     "encoding": {
       "x": {"field": "x", "type": "quantitative", "scale": {"domain": [0, 1], "nice": false, "zero": false}, "axis": {"values": [0, 0.5, 1], "title": "θ / (π / 2)", "titlePadding": 8}},
       "y": {"field": "y", "type": "quantitative", "scale": {"domain": [-0.15, 3.06], "nice": false, "zero": false}, "axis": {"values": [0, 1, 2, 3], "title": null}}}},
    {"data": {"name": "p2curves"}, "mark": {"type": "line", "color": "#0000ff", "strokeWidth": 1},
     "encoding": {
       "x": {"field": "x", "type": "quantitative", "scale": {"domain": [0, 1], "nice": false, "zero": false}, "axis": {"orient": "top", "values": [0, 0.5, 1], "labels": false, "title": null}},
       "y": {"field": "y", "type": "quantitative", "scale": {"domain": [-0.15, 3.06], "nice": false, "zero": false}, "axis": {"orient": "right", "values": [0, 1, 2, 3], "labels": false, "title": null}},
       "detail": {"field": "c", "type": "nominal"}}},
    {"data": {"values": [{"t": "Raw Data"}]}, "mark": {"type": "text", "align": "left", "baseline": "middle", "fontSize": 24, "font": "Liberation Sans", "color": "#000"},
     "encoding": {"x": {"datum": 0.301, "type": "quantitative", "axis": null}, "y": {"datum": 1.77, "type": "quantitative", "axis": null}, "text": {"field": "t"}}}
  ]
},
{
  "width": 347, "height": 299,
  "resolve": {"axis": {"x": "independent", "y": "independent"}},
  "layer": [
    {"data": {"name": "p3dots"}, "mark": {"type": "point", "shape": "square", "size": 4, "filled": true, "color": "#ff00ff", "opacity": 1},
     "encoding": {
       "x": {"field": "x", "type": "quantitative", "scale": {"domain": [0, 1], "nice": false, "zero": false}, "axis": {"values": [0, 0.5, 1], "title": "θ / (π / 2)", "titlePadding": 8}},
       "y": {"field": "y", "type": "quantitative", "scale": {"domain": [-0.05, 1.05], "nice": false, "zero": false}, "axis": {"values": [0, 0.2, 0.4, 0.6, 0.8, 1], "title": null}}}},
    {"data": {"name": "p3curves"}, "mark": {"type": "line", "color": "#0000ff", "strokeWidth": 1},
     "encoding": {
       "x": {"field": "x", "type": "quantitative", "scale": {"domain": [0, 1], "nice": false, "zero": false}, "axis": {"orient": "top", "values": [0, 0.5, 1], "labels": false, "title": null}},
       "y": {"field": "y", "type": "quantitative", "scale": {"domain": [-0.05, 1.05], "nice": false, "zero": false}, "axis": {"orient": "right", "values": [0, 0.2, 0.4, 0.6, 0.8, 1], "labels": false, "title": null}},
       "detail": {"field": "c", "type": "nominal"}}},
    {"data": {"values": [{"t": "APIT Data"}]}, "mark": {"type": "text", "align": "left", "baseline": "middle", "fontSize": 24, "font": "Liberation Sans", "color": "#000"},
     "encoding": {"x": {"datum": 0.3, "type": "quantitative", "axis": null}, "y": {"datum": 0.607, "type": "quantitative", "axis": null}, "text": {"field": "t"}}}
  ]
},
{
  "width": 347, "height": 299,
  "resolve": {"axis": {"x": "independent", "y": "independent"}},
  "layer": [
    {"data": {"name": "p4dots"}, "mark": {"type": "point", "shape": "square", "size": 4, "filled": true, "color": "#ff0000", "opacity": 1},
     "encoding": {
       "x": {"field": "x", "type": "quantitative", "scale": {"domain": [0, 1], "nice": false, "zero": false}, "axis": {"values": [0, 0.5, 1], "title": "θ / (π / 2)", "titlePadding": 8}},
       "y": {"field": "y", "type": "quantitative", "scale": {"domain": [-0.6, 13.05], "nice": false, "zero": false}, "axis": {"values": [0, 5, 10], "title": null}}}},
    {"data": {"name": "p4curves"}, "mark": {"type": "line", "color": "#0000ff", "strokeWidth": 1},
     "encoding": {
       "x": {"field": "x", "type": "quantitative", "scale": {"domain": [0, 1], "nice": false, "zero": false}, "axis": {"orient": "top", "values": [0, 0.5, 1], "labels": false, "title": null}},
       "y": {"field": "y", "type": "quantitative", "scale": {"domain": [-0.6, 13.05], "nice": false, "zero": false}, "axis": {"orient": "right", "values": [0, 5, 10], "labels": false, "title": null}},
       "detail": {"field": "c", "type": "nominal"}}},
    {"data": {"values": [{"t": "APIT & top 500"}]}, "mark": {"type": "text", "align": "left", "baseline": "middle", "fontSize": 24, "font": "Liberation Sans", "color": "#000"},
     "encoding": {"x": {"datum": 0.2, "type": "quantitative", "axis": null}, "y": {"datum": 7.54, "type": "quantitative", "axis": null}, "text": {"field": "t"}}}
  ]
}
]
}
